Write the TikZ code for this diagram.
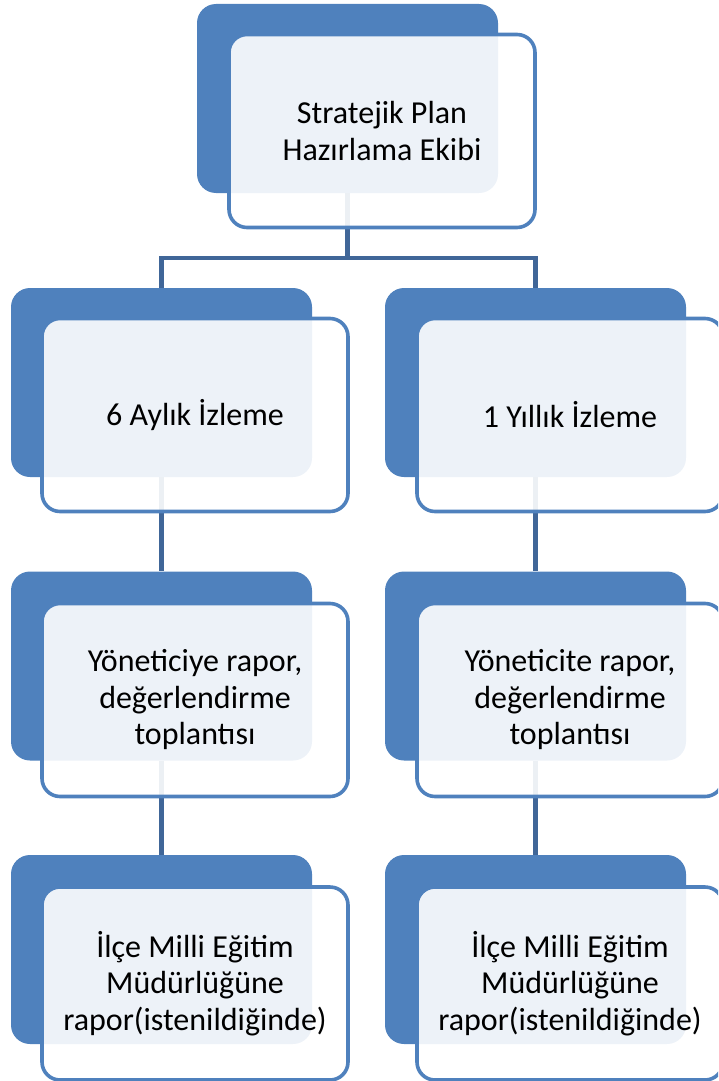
\documentclass[tikz,border=0pt]{standalone}
\usepackage{fontspec}
\setmainfont{Carlito}
\definecolor{boxblue}{RGB}{79,129,189}
\definecolor{linkblue}{RGB}{64,102,152}

\begin{document}
\begin{tikzpicture}[x=1pt,y=1pt]
		\tikzstyle{every node}+=[inner sep=0pt]
		\tikzstyle{backbox}=[rectangle, rounded corners=19pt, fill=boxblue, minimum width=301pt, minimum height=189pt]
		\tikzstyle{frontbox}=[rectangle, rounded corners=18pt, draw=boxblue, line width=3.6pt, fill=white, fill opacity=0.9, text opacity=1, minimum width=306pt, minimum height=193pt, align=center, font=\fontsize{32}{36.5}\selectfont]
		\tikzstyle{link}=[linkblue, line width=4.6pt]
		\useasboundingbox (0,0) rectangle (718,-1081);
		\clip (0,0) rectangle (718,-1081);
		\node [backbox] (planb) at (347.5,-98.5) {};
		\node [backbox] (sixb) at (161.5,-382.5) {};
		\node [backbox] (oneb) at (535.5,-382.5) {};
		\node [backbox] (sixrepb) at (161.5,-666) {};
		\node [backbox] (onerepb) at (535.5,-666) {};
		\node [backbox] (sixmemb) at (161.5,-949.5) {};
		\node [backbox] (onememb) at (535.5,-949.5) {};
		\coordinate (split) at (347.5,-258);
		\draw [link] (planb.south) -- (split) -| (sixb.north);
		\draw [link] (split) -| (oneb.north);
		\draw [link] (sixb.south) -- (sixrepb.north);
		\draw [link] (sixrepb.south) -- (sixmemb.north);
		\draw [link] (oneb.south) -- (onerepb.north);
		\draw [link] (onerepb.south) -- (onememb.north);
		\node [frontbox] (plan) at (382,-131) {Stratejik Plan\\Hazırlama Ekibi};
		\node [frontbox] (six) at (195,-415) {6 Aylık İzleme};
		\node [frontbox] (one) at (570,-415) {1 Yıllık İzleme};
		\node [frontbox] (sixrep) at (195,-700) {Yöneticiye rapor,\\değerlendirme\\toplantısı};
		\node [frontbox] (onerep) at (570,-700) {Yöneticite rapor,\\değerlendirme\\toplantısı};
		\node [frontbox] (sixmem) at (195,-983.5) {İlçe Milli Eğitim\\Müdürlüğüne\\rapor(istenildiğinde)};
		\node [frontbox] (onemem) at (570,-983.5) {İlçe Milli Eğitim\\Müdürlüğüne\\rapor(istenildiğinde)};
\end{tikzpicture}
\end{document}
